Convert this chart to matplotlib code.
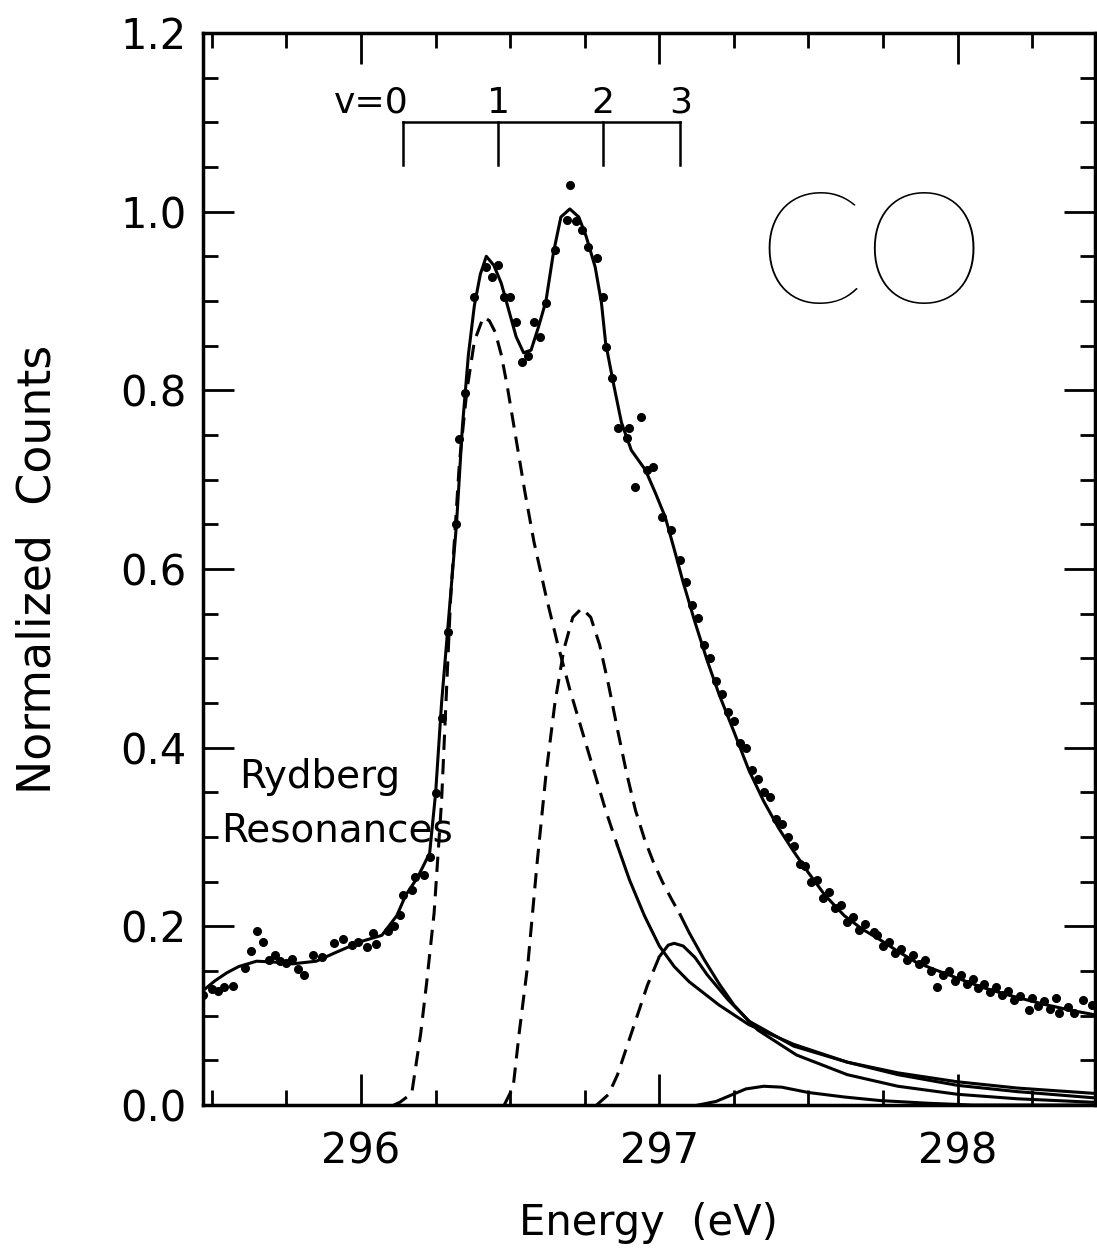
import matplotlib
matplotlib.use("Agg")
import matplotlib.pyplot as plt
import numpy as np

plt.rcParams['font.family'] = ['DejaVu Sans']

# total fit curve
fit_x = [295.47, 295.51, 295.55, 295.59, 295.65, 295.71, 295.77, 295.85, 295.91, 296.00,
         296.07, 296.12, 296.15, 296.19, 296.23, 296.25, 296.27, 296.30, 296.32, 296.34,
         296.36, 296.38, 296.40, 296.42, 296.445, 296.47, 296.495, 296.52, 296.545, 296.57,
         296.595, 296.62, 296.645, 296.67, 296.70, 296.73, 296.755, 296.785, 296.806, 296.82,
         296.846, 296.873, 296.906, 296.953, 296.987, 297.02, 297.05, 297.08, 297.12, 297.16,
         297.20, 297.25, 297.30, 297.35, 297.40, 297.45, 297.50, 297.555, 297.62, 297.68,
         297.74, 297.80, 297.86, 297.92, 298.00, 298.08, 298.16, 298.24, 298.30, 298.38, 298.46]
fit_y = [0.128, 0.139, 0.148, 0.155, 0.161, 0.160, 0.158, 0.161, 0.170, 0.183,
         0.190, 0.212, 0.235, 0.255, 0.282, 0.349, 0.450, 0.570, 0.650, 0.760,
         0.840, 0.895, 0.930, 0.950, 0.940, 0.920, 0.890, 0.860, 0.842, 0.845,
         0.871, 0.900, 0.954, 0.994, 1.003, 0.994, 0.972, 0.938, 0.898, 0.853,
         0.808, 0.764, 0.733, 0.711, 0.685, 0.658, 0.622, 0.585, 0.540, 0.498,
         0.460, 0.418, 0.375, 0.340, 0.310, 0.284, 0.260, 0.235, 0.212, 0.197,
         0.185, 0.172, 0.160, 0.152, 0.142, 0.132, 0.124, 0.117, 0.112, 0.106, 0.101]

# measured points
dot_x = [295.47, 295.50, 295.52, 295.54, 295.57, 295.61, 295.63, 295.65, 295.67, 295.69,
         295.71, 295.73, 295.75, 295.77, 295.79, 295.81, 295.84, 295.87, 295.91, 295.94,
         295.97, 295.99, 296.02, 296.04, 296.05, 296.09, 296.11, 296.13, 296.14, 296.17,
         296.18, 296.21, 296.23, 296.25, 296.27, 296.29, 296.32, 296.33, 296.35, 296.38,
         296.42, 296.44, 296.46, 296.48, 296.50, 296.52, 296.54, 296.56, 296.58, 296.60,
         296.62, 296.65, 296.69, 296.70, 296.72, 296.74, 296.76, 296.79, 296.81, 296.82,
         296.84, 296.86, 296.89, 296.90, 296.92, 296.94, 296.96, 296.98, 297.01, 297.04,
         297.07, 297.09, 297.11, 297.13, 297.15, 297.17, 297.19, 297.21, 297.23, 297.25,
         297.27, 297.29, 297.31, 297.33, 297.35, 297.37, 297.39, 297.41, 297.43, 297.45,
         297.47, 297.49, 297.51, 297.53, 297.55, 297.57, 297.59, 297.61, 297.63, 297.65,
         297.67, 297.69, 297.72, 297.73, 297.75, 297.77, 297.79, 297.81, 297.83, 297.85,
         297.87, 297.89, 297.91, 297.93, 297.95, 297.97, 297.99, 298.01, 298.03, 298.05,
         298.07, 298.09, 298.11, 298.13, 298.15, 298.17, 298.19, 298.21, 298.24, 298.25,
         298.27, 298.29, 298.31, 298.33, 298.34, 298.37, 298.39, 298.42, 298.45]
dot_y = [0.123, 0.130, 0.128, 0.132, 0.133, 0.153, 0.172, 0.195, 0.182, 0.162,
         0.168, 0.161, 0.159, 0.163, 0.152, 0.145, 0.168, 0.166, 0.181, 0.186,
         0.179, 0.182, 0.177, 0.192, 0.180, 0.195, 0.200, 0.213, 0.235, 0.241,
         0.255, 0.258, 0.278, 0.349, 0.433, 0.529, 0.650, 0.745, 0.797, 0.904,
         0.938, 0.927, 0.940, 0.905, 0.905, 0.877, 0.832, 0.838, 0.877, 0.860,
         0.898, 0.957, 0.991, 1.030, 0.989, 0.980, 0.960, 0.948, 0.905, 0.849,
         0.814, 0.758, 0.747, 0.758, 0.692, 0.770, 0.711, 0.714, 0.658, 0.644,
         0.610, 0.585, 0.560, 0.545, 0.515, 0.500, 0.475, 0.460, 0.440, 0.430,
         0.405, 0.400, 0.375, 0.365, 0.350, 0.345, 0.320, 0.315, 0.300, 0.290,
         0.270, 0.268, 0.250, 0.252, 0.232, 0.238, 0.220, 0.224, 0.205, 0.210,
         0.196, 0.203, 0.194, 0.190, 0.178, 0.183, 0.170, 0.175, 0.162, 0.168,
         0.158, 0.162, 0.150, 0.132, 0.146, 0.150, 0.139, 0.145, 0.136, 0.141,
         0.131, 0.136, 0.126, 0.132, 0.123, 0.128, 0.118, 0.122, 0.106, 0.120,
         0.111, 0.116, 0.107, 0.120, 0.103, 0.110, 0.103, 0.118, 0.112]

# fitted components
comp1_x = [296.11, 296.13, 296.17, 296.20, 296.22, 296.245, 296.27, 296.30, 296.33, 296.355,
           296.38, 296.41, 296.43, 296.45, 296.47, 296.49, 296.51, 296.53, 296.55, 296.58,
           296.62, 296.66, 296.70, 296.74, 296.78, 296.82, 296.86, 296.90, 296.95, 297.00,
           297.05, 297.10, 297.20, 297.30, 297.45, 297.63, 297.80, 298.00, 298.20, 298.46]
comp1_y = [0.0, 0.003, 0.013, 0.080, 0.137, 0.215, 0.340, 0.565, 0.720, 0.800,
           0.855, 0.882, 0.878, 0.865, 0.840, 0.805, 0.765, 0.725, 0.685, 0.630,
           0.570, 0.515, 0.465, 0.420, 0.375, 0.330, 0.290, 0.252, 0.212, 0.178,
           0.155, 0.138, 0.112, 0.090, 0.068, 0.048, 0.034, 0.022, 0.015, 0.008]
comp2_x = [296.48, 296.51, 296.53, 296.56, 296.59, 296.62, 296.65, 296.68, 296.71, 296.74,
           296.77, 296.80, 296.83, 296.86, 296.89, 296.92, 296.95, 296.98, 297.01, 297.04,
           297.07, 297.10, 297.15, 297.20, 297.25, 297.30, 297.45, 297.63, 297.80, 298.00,
           298.20, 298.46]
comp2_y = [0.0, 0.020, 0.080, 0.160, 0.270, 0.370, 0.450, 0.510, 0.546, 0.556,
           0.546, 0.515, 0.470, 0.420, 0.372, 0.330, 0.298, 0.272, 0.250, 0.231,
           0.213, 0.193, 0.163, 0.136, 0.112, 0.094, 0.066, 0.048, 0.036, 0.026,
           0.019, 0.013]
comp3_x = [296.79, 296.83, 296.86, 296.91, 296.96, 297.00, 297.03, 297.05, 297.08, 297.12,
           297.16, 297.23, 297.33, 297.46, 297.63, 297.80, 298.00, 298.20, 298.46]
comp3_y = [0.0, 0.012, 0.034, 0.084, 0.134, 0.166, 0.179, 0.181, 0.178, 0.165,
           0.146, 0.118, 0.084, 0.056, 0.034, 0.021, 0.012, 0.007, 0.003]
comp4_x = [297.13, 297.19, 297.24, 297.29, 297.35, 297.41, 297.50, 297.62, 297.74, 297.90, 298.05, 298.46]
comp4_y = [0.0, 0.004, 0.011, 0.018, 0.021, 0.020, 0.014, 0.009, 0.005, 0.002, 0.0, 0.0]

components = [(comp1_x, comp1_y), (comp2_x, comp2_y), (comp3_x, comp3_y), (comp4_x, comp4_y)]
dash_until = [296.86, 297.07, 297.00, None]   # dashed rise, solid tail

# vibrational comb
v_energy = [296.14, 296.46, 296.81, 297.07]
v_label = ['v=0', '1', '2', '3']

fig = plt.figure(figsize=(10.97, 12.58), dpi=100)
ax = fig.add_axes([0.185, 0.1216, 0.813, 0.8522])

lw = 2.2
ax.plot(fit_x, fit_y, color='black', lw=lw)
ax.plot(dot_x, dot_y, 'o', color='black', ms=5.5)

for (cx, cy), cut in zip(components, dash_until):
    cx = np.array(cx)
    cy = np.array(cy)
    if cut is None:
        ax.plot(cx, cy, color='black', lw=lw)
        continue
    k = np.searchsorted(cx, cut)
    ax.plot(cx[:k + 1], cy[:k + 1], color='black', lw=lw, dashes=(5, 3))
    ax.plot(cx[k:], cy[k:], color='black', lw=lw)

# comb
ax.plot([v_energy[0], v_energy[-1]], [1.10, 1.10], color='black', lw=1.8)
for e, lab in zip(v_energy, v_label):
    ax.plot([e, e], [1.052, 1.10], color='black', lw=1.8)
    if lab.startswith('v'):
        ax.text(e + 0.02, 1.103, lab, ha='right', va='bottom', fontsize=26)
    else:
        ax.text(e, 1.103, lab, ha='center', va='bottom', fontsize=26)

ax.text(295.59, 0.355, 'Rydberg', fontsize=28, ha='left', va='baseline')
ax.text(295.53, 0.295, 'Resonances', fontsize=28, ha='left', va='baseline')

ax.text(297.71, 0.945, 'CO', fontsize=112, ha='center', va='center',
        family=['Lato', 'DejaVu Sans'], fontweight=100)

ax.set_xlim(295.47, 298.46)
ax.set_ylim(0, 1.2)
ax.set_xticks([296, 297, 298])
ax.set_xticks(np.arange(295.5, 298.46, 0.25), minor=True)
ax.set_yticks(np.arange(0, 1.21, 0.2))
ax.set_yticks(np.arange(0, 1.2, 0.05), minor=True)
ax.set_yticklabels(['0.0', '0.2', '0.4', '0.6', '0.8', '1.0', '1.2'])
ax.tick_params(which='both', direction='in', top=True, right=True, width=2)
ax.tick_params(which='major', length=22, labelsize=30)
ax.tick_params(axis='x', which='major', pad=18)
ax.tick_params(axis='y', which='major', pad=12)
ax.tick_params(which='minor', length=11)
for s in ax.spines.values():
    s.set_linewidth(2.5)

ax.set_xlabel('Energy  (eV)', fontsize=30)
ax.set_ylabel('Normalized  Counts', fontsize=33)
ax.xaxis.set_label_coords(0.5, -0.09)
ax.yaxis.set_label_coords(-0.16, 0.5)

fig.savefig('out.png', dpi=100)
